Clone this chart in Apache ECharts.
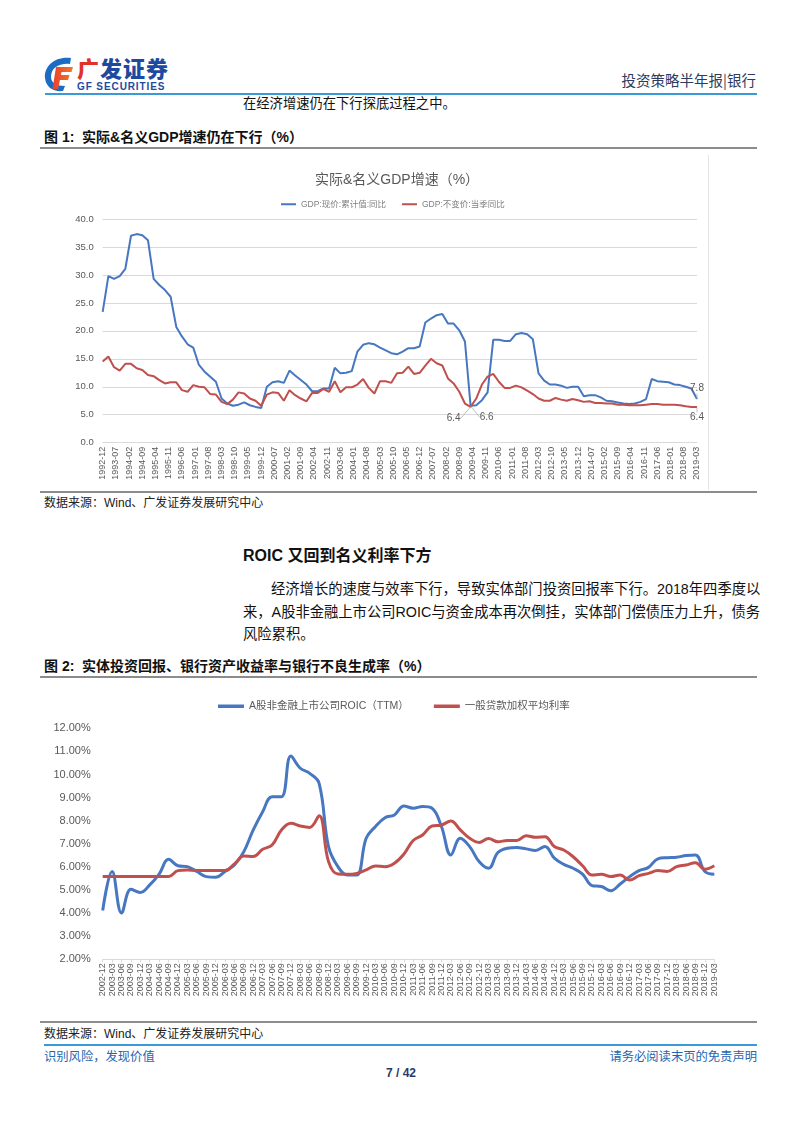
<!DOCTYPE html>
<html>
<head>
<meta charset="utf-8">
<title>投资策略半年报|银行</title>
<script src="https://cdn.jsdelivr.net/npm/echarts/dist/echarts.min.js"></script>
<style>
  body { margin: 0; background: #fff; }
  #page { position: relative; width: 802px; height: 1133px; overflow: hidden;
          font-family: 'Liberation Sans', 'Noto Sans CJK SC', sans-serif; color: #111; }
  .t { position: absolute; white-space: nowrap; }
  .rule { position: absolute; }
  .chart { position: absolute; }
  .para { position: absolute; font-size: 14.3px; line-height: 20px; text-align: justify;
          text-align-last: justify; white-space: nowrap; }
</style>
</head>
<body>
<div id="page">
  <!-- header -->
  <svg class="t" style="left:43px;top:55px" width="32" height="38" viewBox="0 0 32 38">
    <defs>
      <linearGradient id="fg" x1="0" y1="0" x2="1" y2="0">
        <stop offset="0" stop-color="#e8402a"/><stop offset="1" stop-color="#f07a2a"/>
      </linearGradient>
    </defs>
    <path d="M28 3 C 12 1, 1 11, 2 23 C 3 33, 11 37, 20 36 L 22 31 C 14 31, 8 28, 8 22 C 8 13, 16 8, 27 9 Z" fill="#1b6cc2"/>
    <path d="M13 12 L 30 12 L 28.5 17 L 18.5 17 L 18 20 L 26.5 20 L 25 25 L 17 25 L 15 34 L 9.5 34 Z" fill="url(#fg)"/>
  </svg>
  <div class="t" style="left:77px;top:54px;font-size:22px;font-weight:900;line-height:26px;font-family:'Noto Sans CJK SC';letter-spacing:1px"><span style="color:#e0322b">广</span><span style="color:#1d4aa0">发证券</span></div>
  <div class="t" style="left:77px;top:81px;font-size:10px;font-weight:bold;line-height:11px;color:#1d4aa0;letter-spacing:0.9px">GF SECURITIES</div>
  <div class="t" style="right:46px;top:70px;font-size:14.5px;line-height:20px;color:#2d3b5e;font-family:'Noto Sans CJK SC'">投资策略半年报|银行</div>
  <div class="rule" style="left:45px;top:93px;width:712px;height:2px;background:#3a9ad9"></div>
  <div class="t" style="left:243px;top:94px;font-size:13.3px;line-height:18px;font-family:'Noto Sans CJK SC'">在经济增速仍在下行探底过程之中。</div>

  <!-- figure 1 -->
  <div class="t" style="left:44px;top:128px;font-size:14px;font-weight:bold;line-height:19px">图 1:&nbsp; 实际&amp;名义GDP增速仍在下行（%）</div>
  <div class="rule" style="left:40px;top:147px;width:717px;height:2px;background:#8c8c8c"></div>
  <div id="c1" class="chart" style="left:40px;top:150px;width:720px;height:340px"></div>
  <div class="rule" style="left:708px;top:155px;width:1px;height:335px;background:#e4e4e4"></div>
  <div class="rule" style="left:40px;top:491px;width:717px;height:1.5px;background:#8c8c8c"></div>
  <div class="t" style="left:44px;top:495px;font-size:12px;line-height:17px;color:#222">数据来源：Wind、广发证券发展研究中心</div>

  <!-- text -->
  <div class="t" style="left:243px;top:545px;font-size:16px;font-weight:bold;line-height:21px">ROIC 又回到名义利率下方</div>
  <div class="para" style="left:271px;top:579px;width:486px">经济增长的速度与效率下行，导致实体部门投资回报率下行。2018年四季度以</div>
  <div class="para" style="left:243px;top:602px;width:514px">来，A股非金融上市公司ROIC与资金成本再次倒挂，实体部门偿债压力上升，债务</div>
  <div class="t" style="left:243px;top:624px;font-size:14.3px;line-height:20px">风险累积。</div>

  <!-- figure 2 -->
  <div class="t" style="left:44px;top:657px;font-size:14px;font-weight:bold;line-height:19px">图 2:&nbsp; 实体投资回报、银行资产收益率与银行不良生成率（%）</div>
  <div class="rule" style="left:40px;top:676px;width:717px;height:2px;background:#8c8c8c"></div>
  <div id="c2" class="chart" style="left:40px;top:680px;width:720px;height:340px"></div>
  <div class="rule" style="left:40px;top:1021px;width:717px;height:1.5px;background:#8c8c8c"></div>
  <div class="t" style="left:44px;top:1026px;font-size:12px;line-height:17px;color:#222">数据来源：Wind、广发证券发展研究中心</div>

  <!-- footer -->
  <div class="rule" style="left:44px;top:1044px;width:713px;height:2px;background:#3a9ad9"></div>
  <div class="t" style="left:44px;top:1048px;font-size:12.3px;line-height:17px;color:#2566b0;font-family:'Noto Sans CJK SC'">识别风险，发现价值</div>
  <div class="t" style="right:45px;top:1048px;font-size:12.3px;line-height:17px;color:#2566b0;font-family:'Noto Sans CJK SC'">请务必阅读末页的免责声明</div>
  <div class="t" style="left:0;width:802px;text-align:center;top:1065px;font-size:12px;font-weight:bold;line-height:16px;color:#1f3b70">7 / 42</div>
</div>

<script>
// ---------- 图1 数据：季度，1992-12 起 ----------
const gdpStartYear = 1992
const gdpStartMonth = 12
const gdpNames = ['GDP:现价:累计值:同比', 'GDP:不变价:当季同比']
const gdpNominal = [
    23.4, 29.8, 29.3, 29.8, 31.1, 37.0, 37.3, 37.1, 36.2, 29.3,
    28.2, 27.3, 26.1, 20.7, 19.0, 17.6, 17.0, 13.9, 12.7, 11.8,
    10.9, 7.9, 7.0, 6.6, 6.8, 7.2, 6.7, 6.4, 6.2, 10.0,
    10.8, 11.0, 10.7, 12.9, 12.0, 11.2, 10.4, 9.2, 9.2, 9.7,
    9.7, 13.4, 12.4, 12.5, 12.8, 16.3, 17.5, 17.8, 17.6, 17.0,
    16.5, 16.0, 15.8, 16.3, 16.9, 16.9, 17.2, 21.5, 22.2, 22.8,
    23.0, 21.3, 21.3, 20.1, 18.1, 6.6, 6.7, 7.6, 9.0, 18.4,
    18.4, 18.2, 18.2, 19.4, 19.6, 19.4, 18.5, 12.4, 11.1, 10.4,
    10.4, 10.2, 9.8, 10.0, 10.0, 8.3, 8.5, 8.5, 8.1, 7.5,
    7.4, 7.2, 7.0, 6.9, 7.0, 7.3, 7.8, 11.4, 11.0, 10.9,
    10.8, 10.4, 10.3, 10.0, 9.7, 7.8
]
const gdpReal = [
    14.5, 15.4, 13.5, 12.9, 14.1, 14.1, 13.3, 13.0, 12.1, 11.9,
    11.2, 10.6, 10.8, 10.8, 9.4, 9.1, 10.3, 10.0, 9.9, 8.7,
    8.6, 7.3, 6.9, 7.7, 9.0, 8.8, 7.9, 7.5, 6.6, 8.6,
    9.0, 8.9, 7.5, 9.4, 8.5, 7.9, 7.4, 8.9, 8.9, 9.6,
    9.1, 11.0, 9.0, 9.9, 9.9, 10.4, 11.4, 9.8, 8.8, 11.0,
    11.0, 10.7, 12.4, 12.5, 13.6, 12.3, 12.5, 13.8, 15.0, 14.2,
    13.8, 11.5, 10.6, 9.1, 7.0, 6.4, 7.9, 10.4, 11.8, 12.3,
    10.9, 9.8, 9.8, 10.2, 9.9, 9.3, 8.7, 7.9, 7.5, 7.5,
    8.0, 7.7, 7.5, 7.8, 7.6, 7.3, 7.4, 7.1, 7.1, 7.0,
    7.0, 6.8, 6.8, 6.7, 6.7, 6.7, 6.8, 6.9, 6.9, 6.8,
    6.8, 6.8, 6.7, 6.5, 6.4, 6.4
]
const gdpLabelStep = 7   // 横轴每7个月一个标签
// 需要显示数值的点（2009-03 与 2019-03）
const gdpMarked = [65, 105]

// ---------- 图2 数据：季度，2002-12 起 ----------
const roicStartYear = 2002
const roicStartMonth = 12
const roicNames = ['A股非金融上市公司ROIC（TTM）', '一般贷款加权平均利率']
const roic = [
    4.11, 5.80, 4.00, 5.03, 4.89, 5.22, 5.69, 6.33, 6.05, 6.01,
    5.80, 5.58, 5.55, 5.80, 6.08, 6.66, 7.60, 8.39, 9.04, 9.04,
    10.80, 10.27, 10.05, 9.62, 6.88, 6.01, 5.65, 5.65, 7.24, 7.75,
    8.13, 8.25, 8.64, 8.54, 8.61, 8.54, 7.75, 6.52, 7.24, 6.88,
    6.23, 5.94, 6.62, 6.81, 6.84, 6.78, 6.71, 6.88, 6.38, 6.11,
    5.94, 5.69, 5.19, 5.15, 4.97, 5.26, 5.58, 5.84, 5.98, 6.35,
    6.40, 6.42, 6.49, 6.52, 5.80, 5.68
]
const loanRate = [
    5.58, 5.58, 5.58, 5.58, 5.58, 5.58, 5.58, 5.58, 5.84, 5.87,
    5.84, 5.84, 5.84, 5.84, 6.13, 6.47, 6.45, 6.76, 6.95, 7.60,
    7.89, 7.77, 7.71, 8.21, 6.23, 5.69, 5.68, 5.72, 5.87, 6.04,
    6.01, 6.16, 6.55, 7.14, 7.38, 7.77, 7.81, 7.99, 7.60, 7.24,
    7.06, 7.23, 7.09, 7.14, 7.14, 7.35, 7.28, 7.31, 6.88, 6.73,
    6.44, 6.05, 5.65, 5.68, 5.58, 5.65, 5.43, 5.62, 5.72, 5.84,
    5.80, 6.01, 6.08, 6.18, 5.90, 6.05
]

const blue = '#4677c0'
const red = '#c0504d'
const txt = '#595959'
const fontFam = "'Liberation Sans', 'Noto Sans CJK SC', sans-serif"

// 月份序号 -> 'YYYY-MM'
function monthLabel(y0, m0, k) {
    let m = m0 - 1 + k
    return (y0 + Math.floor(m / 12)) + '-' + String(m % 12 + 1).padStart(2, '0')
}

// 图1
let c1 = echarts.init(document.getElementById('c1'))
// 标注点需要一个(透明的)symbol，标签才会画出来
function gdpSeriesData(values, labelPos) {
    return values.map(function (v, i) {
        let item = { value: [i * 3, v] }
        if (gdpMarked.indexOf(i) >= 0) {
            item.symbol = 'circle'
            item.symbolSize = 1
            item.itemStyle = { color: 'rgba(0,0,0,0)' }
            item.label = { show: true, position: labelPos(i), color: txt, fontSize: 10 }
        }
        return item
    })
}
c1.setOption({
    animation: false,
    textStyle: { fontFamily: fontFam },
    title: {
        text: '实际&名义GDP增速（%）', left: 270, top: 18,
        textStyle: { fontSize: 14, fontWeight: 'normal', color: txt }
    },
    legend: {
        left: 236, top: 45, itemWidth: 15, itemHeight: 2, itemGap: 16, icon: 'rect',
        textStyle: { fontSize: 8.5, color: '#7f7f7f' },
        data: gdpNames
    },
    grid: { left: 62.7, right: 63, top: 69, bottom: 47.3, containLabel: false },
    xAxis: {
        type: 'value', min: 0, max: (gdpNominal.length - 1) * 3, interval: gdpLabelStep,
        axisLine: { show: true, lineStyle: { color: '#d9d9d9' } },
        axisTick: { show: false },
        splitLine: { show: false },
        axisLabel: {
            rotate: 90, fontSize: 9, color: txt, margin: 4,
            showMinLabel: true, showMaxLabel: true,
            formatter: function (v) { return monthLabel(gdpStartYear, gdpStartMonth, v) }
        }
    },
    yAxis: {
        type: 'value', min: 0, max: 40, interval: 5,
        axisLine: { show: false }, axisTick: { show: false },
        splitLine: { lineStyle: { color: '#d9d9d9' } },
        axisLabel: { fontSize: 9.5, color: txt, margin: 9, formatter: function (v) { return v.toFixed(1) } }
    },
    series: [
        {
            name: gdpNames[0], type: 'line', symbol: 'none', showAllSymbol: true, color: blue,
            lineStyle: { width: 2 },
            label: { fontSize: 10, color: txt, distance: 5 },
            labelLayout: function (p) { return p.dataIndex === 65 ? { dx: 16, dy: 1 } : {} },
            labelLine: { show: true, length2: 0, lineStyle: { color: '#b0b0b0', width: 0.8 } },
            data: gdpSeriesData(gdpNominal, function (i) { return i === 65 ? 'bottom' : 'top' })
        },
        {
            name: gdpNames[1], type: 'line', symbol: 'none', showAllSymbol: true, color: red,
            lineStyle: { width: 2 },
            label: { fontSize: 10, color: txt, distance: 5 },
            labelLayout: function (p) { return p.dataIndex === 65 ? { dx: -17, dy: 1 } : {} },
            labelLine: { show: true, length2: 0, lineStyle: { color: '#b0b0b0', width: 0.8 } },
            data: gdpSeriesData(gdpReal, function () { return 'bottom' })
        }
    ]
})

// 图2
let roicDates = roic.map(function (v, i) { return monthLabel(roicStartYear, roicStartMonth, i * 3) })
let c2 = echarts.init(document.getElementById('c2'))
c2.setOption({
    animation: false,
    textStyle: { fontFamily: fontFam },
    legend: {
        left: 173, top: 16, itemWidth: 26, itemHeight: 3.5, itemGap: 25, icon: 'rect',
        textStyle: { fontSize: 10.5, color: txt },
        data: roicNames
    },
    grid: { left: 62.7, right: 45.7, top: 48.3, bottom: 60.7, containLabel: false },
    xAxis: {
        type: 'category', boundaryGap: false, data: roicDates,
        axisLine: { lineStyle: { color: '#d9d9d9' } },
        axisTick: { show: true, length: 3, lineStyle: { color: '#d9d9d9' } },
        axisLabel: { rotate: 90, interval: 0, fontSize: 9, color: txt, margin: 4 }
    },
    yAxis: {
        type: 'value', min: 2, max: 12, interval: 1,
        axisLine: { show: false }, axisTick: { show: false },
        splitLine: { show: false },
        axisLabel: { fontSize: 11, color: txt, margin: 12, formatter: function (v) { return v.toFixed(2) + '%' } }
    },
    series: [
        { name: roicNames[0], type: 'line', symbol: 'none', smooth: 0.4, color: blue, lineStyle: { width: 3 }, data: roic },
        { name: roicNames[1], type: 'line', symbol: 'none', smooth: 0.4, color: red, lineStyle: { width: 3 }, data: loanRate }
    ]
})
</script>
</body>
</html>
